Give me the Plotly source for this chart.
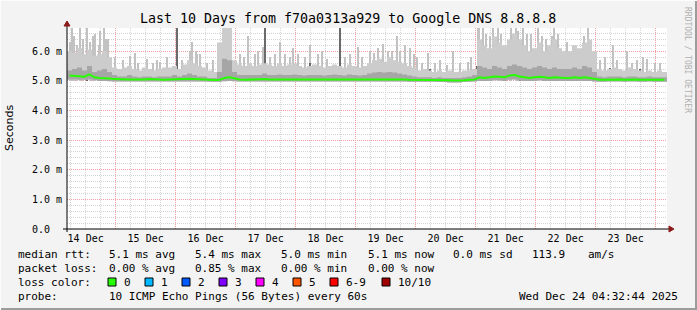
import plotly.graph_objects as go
import pandas as pd

# ---------------- data (ms) ----------------
start = pd.Timestamp("2025-12-14 04:32:44")
end = pd.Timestamp("2025-12-24 04:32:44")
bin_hours = 2  # one value per 2 hours, 120 bins

rtt_median = [
    5.18, 5.16, 5.15, 5.14, 5.22, 5.12, 5.10, 5.10, 5.08, 5.06,
    5.05, 5.04, 5.05, 5.05, 5.04, 5.05, 5.06, 5.05, 5.05, 5.04,
    5.05, 5.06, 5.05, 5.06, 5.07, 5.06, 5.05, 5.04, 5.03, 5.03,
    5.04, 5.10, 5.12, 5.08, 5.05, 5.04, 5.05, 5.05, 5.05, 5.06,
    5.05, 5.05, 5.06, 5.05, 5.05, 5.06, 5.05, 5.05, 5.06, 5.05,
    5.05, 5.05, 5.06, 5.07, 5.05, 5.05, 5.06, 5.05, 5.05, 5.06,
    5.06, 5.06, 5.07, 5.06, 5.07, 5.06, 5.06, 5.05, 5.04, 5.04,
    5.04, 5.04, 5.03, 5.04, 5.03, 5.03, 5.02, 5.01, 5.01, 5.02,
    5.04, 5.05, 5.12, 5.10, 5.12, 5.15, 5.14, 5.12, 5.18, 5.20,
    5.15, 5.12, 5.10, 5.12, 5.14, 5.12, 5.10, 5.12, 5.10, 5.10,
    5.10, 5.12, 5.10, 5.12, 5.10, 5.06, 5.04, 5.04, 5.05, 5.05,
    5.05, 5.04, 5.05, 5.05, 5.04, 5.04, 5.05, 5.04, 5.04, 5.04,
]
rtt_min = [
    5.05, 5.05, 5.04, 5.04, 5.05, 5.02, 5.00, 5.00, 4.99, 4.98,
    4.98, 4.98, 4.98, 4.98, 4.98, 4.98, 4.98, 4.98, 4.98, 4.98,
    4.98, 4.98, 4.98, 4.98, 4.98, 4.98, 4.98, 4.98, 4.97, 4.97,
    4.97, 4.99, 5.00, 4.99, 4.98, 4.98, 4.98, 4.98, 4.98, 4.98,
    4.98, 4.98, 4.98, 4.98, 4.98, 4.98, 4.98, 4.98, 4.98, 4.98,
    4.98, 4.98, 4.98, 4.98, 4.98, 4.98, 4.98, 4.98, 4.98, 4.98,
    4.98, 4.98, 4.98, 4.98, 4.98, 4.98, 4.98, 4.98, 4.97, 4.97,
    4.97, 4.97, 4.97, 4.97, 4.96, 4.96, 4.95, 4.95, 4.95, 4.96,
    4.97, 4.98, 5.00, 5.00, 5.00, 5.02, 5.02, 5.00, 5.04, 5.05,
    5.02, 5.00, 5.00, 5.00, 5.02, 5.00, 5.00, 5.00, 5.00, 5.00,
    5.00, 5.00, 5.00, 5.00, 5.00, 4.98, 4.97, 4.97, 4.98, 4.98,
    4.98, 4.97, 4.98, 4.98, 4.97, 4.97, 4.98, 4.97, 4.97, 4.97,
]
smoke_mid = [
    5.35, 5.40, 5.45, 5.35, 5.50, 5.30, 5.35, 5.40, 5.30, 5.20,
    5.15, 5.15, 5.20, 5.15, 5.12, 5.15, 5.15, 5.12, 5.15, 5.15,
    5.15, 5.20, 5.15, 5.20, 5.25, 5.20, 5.15, 5.15, 5.10, 5.10,
    5.30, 5.75, 5.70, 5.30, 5.20, 5.20, 5.20, 5.20, 5.20, 5.25,
    5.20, 5.20, 5.22, 5.20, 5.20, 5.22, 5.20, 5.18, 5.20, 5.20,
    5.20, 5.18, 5.20, 5.22, 5.20, 5.18, 5.22, 5.20, 5.18, 5.20,
    5.25, 5.28, 5.30, 5.28, 5.30, 5.28, 5.25, 5.22, 5.18, 5.15,
    5.12, 5.12, 5.12, 5.10, 5.12, 5.10, 5.10, 5.10, 5.10, 5.12,
    5.15, 5.20, 5.50, 5.45, 5.40, 5.50, 5.45, 5.40, 5.50, 5.55,
    5.50, 5.45, 5.40, 5.45, 5.50, 5.45, 5.40, 5.45, 5.40, 5.40,
    5.40, 5.45, 5.40, 5.50, 5.45, 5.30, 5.15, 5.12, 5.15, 5.15,
    5.15, 5.12, 5.15, 5.15, 5.12, 5.12, 5.15, 5.12, 5.12, 5.12,
]
smoke_hi = [
    6.00, 5.95, 6.10, 5.90, 6.05, 5.85, 5.90, 6.00, 5.80, 5.45,
    5.40, 5.45, 5.50, 5.40, 5.35, 5.45, 5.40, 5.35, 5.40, 5.45,
    5.45, 5.50, 5.40, 5.55, 5.70, 5.60, 5.50, 5.45, 5.35, 5.30,
    6.30, 6.79, 6.79, 5.70, 5.55, 5.50, 5.60, 5.50, 5.55, 5.60,
    5.55, 5.50, 5.60, 5.50, 5.55, 5.60, 5.50, 5.45, 5.50, 5.55,
    5.50, 5.45, 5.50, 5.55, 5.50, 5.45, 5.55, 5.50, 5.45, 5.50,
    5.60, 5.70, 5.75, 5.65, 5.80, 5.70, 5.65, 5.60, 5.50, 5.45,
    5.35, 5.40, 5.35, 5.30, 5.35, 5.30, 5.35, 5.30, 5.30, 5.35,
    5.35, 5.40, 6.40, 6.20, 6.10, 6.50, 6.30, 6.20, 6.40, 6.60,
    6.40, 6.20, 6.00, 6.10, 6.30, 6.00, 6.20, 6.40, 6.10, 6.00,
    6.00, 6.20, 6.10, 6.30, 6.40, 6.00, 5.40, 5.35, 5.40, 5.45,
    5.40, 5.35, 5.45, 5.40, 5.35, 5.30, 5.35, 5.30, 5.35, 5.30,
]
# narrow light smoke spikes: hours after start, top value (ms)
spike_hours = [
    1.2, 2, 2.8, 4, 5.2, 6.4, 8, 9.2, 10.4, 11.2, 12.8, 13.2, 14.8, 15.6, 16.4,
    19.2, 22.4, 25.2, 27.2, 28.4, 32, 34.4, 36, 37.2, 40, 46, 49.2, 50, 51.6, 52,
    53.2, 56, 58.4,
    69.2, 70.8, 72.4, 75.2, 76.4, 78.4, 81.2, 83.2, 85.2, 87.2, 89.2, 90.4, 92.4,
    95.2, 97.2, 100.4, 102, 104, 111.2, 113.2, 116.4, 118, 121.2,
    121.2, 122.8, 124.4, 126.4, 128.4, 130, 132, 133.2, 135.2, 137.2, 138.8,
    140, 142, 144.4, 147.2, 149.2, 152, 154.4, 157.2, 160.4, 161.6,
    164.4, 164.8, 166.4, 167.6, 169.2, 170.4, 172.4, 173.6, 177.6, 179.6, 180.4,
    182.4, 184, 185.6, 188.4, 190, 191.6, 194, 194.8, 196.4, 200, 206.8,
    208.4, 213.2, 215.2, 218.4, 220, 224, 226, 228, 230.4, 232, 235.2, 237.2,
]
spike_top = [
    6.30, 6.78, 6.50, 6.20, 6.78, 6.40, 6.78, 6.30, 6.50, 6.60, 6.20, 6.70, 6.78, 6.40, 6.40,
    5.80, 5.70, 5.85, 5.95, 5.60, 5.75, 5.60, 5.70, 5.65, 5.80, 5.70, 6.00, 6.30, 6.00, 5.90,
    5.90, 5.60, 5.70,
    5.90, 5.80, 6.50, 5.90, 6.00, 6.15, 5.80, 5.90, 6.30, 5.90, 5.80, 6.10, 5.90,
    5.80, 6.20, 5.90, 6.00, 5.75, 5.80, 5.90, 6.15, 5.80, 5.90,
    6.00, 5.95, 6.10, 6.25, 6.00, 6.00, 6.50, 6.00, 6.20, 6.10, 5.90,
    5.80, 5.60, 5.95, 5.60, 5.70, 5.55, 6.00, 5.60, 5.65, 5.80,
    6.78, 6.78, 6.78, 6.60, 6.50, 6.78, 6.78, 6.60, 6.78, 6.78, 6.70,
    6.78, 6.60, 6.60, 6.78, 6.50, 6.40, 6.50, 6.78, 6.60, 6.30, 6.50,
    6.78, 5.70, 5.80, 6.20, 5.70, 6.00, 5.60, 5.70, 5.80, 5.75, 5.60, 5.60,
]
# dark (dense) smoke spikes
dark_hours = [8, 44, 61.2, 79.2, 97.2, 109.2, 115.2, 145.2, 164, 181.2, 187.2, 205.2, 217.2, 229.2]
dark_top = [5.50, 6.78, 5.45, 6.78, 5.60, 6.78, 5.50, 5.40, 5.50, 5.45, 5.50, 5.50, 5.45, 5.40]

loss_labels = ["0", "1", "2", "3", "4", "5", "6-9", "10/10"]
loss_colors = ["#26ff00", "#00b8ff", "#0059ff", "#7e00ff", "#ff00ff", "#ff5500", "#ff0000", "#a10000"]

y_ticks = [0, 1, 2, 3, 4, 5, 6]
y_ticktext = ["0.0\u00a0\u00a0", "1.0 m", "2.0 m", "3.0 m", "4.0 m", "5.0 m", "6.0 m"]

# ---------------- geometry ----------------
W, H = 697, 310
PL, PR, PT, PB = 67, 667, 28, 229
YMAX = 6.786


def fx(p):
    return (p - PL) / (PR - PL)


def fy(p):
    return (PB - p) / (PB - PT)


times = [start + pd.Timedelta(hours=bin_hours * i) for i in range(len(rtt_median))] + [end]


def ext(a):
    return list(a) + [a[-1]]


MONO = "DejaVu Sans Mono"
fig = go.Figure()

fig.add_trace(go.Scatter(x=times, y=ext(rtt_min), mode="lines", line=dict(width=0, shape="hv"),
                         showlegend=False, hoverinfo="skip"))
fig.add_trace(go.Scatter(x=times, y=ext(smoke_hi), mode="lines", line=dict(width=0, shape="hv"),
                         fill="tonexty", fillcolor="#cccccc", showlegend=False, hoverinfo="skip"))

px_ms = 1440 * 1000  # one pixel of time in ms
fig.add_trace(go.Bar(x=[start + pd.Timedelta(hours=h) for h in spike_hours],
                     y=[t - 5.0 for t in spike_top], base=5.0, width=px_ms * 1.0,
                     marker=dict(color="#c2c2c2", line=dict(width=0)), showlegend=False, hoverinfo="skip"))

fig.add_trace(go.Scatter(x=times, y=ext(rtt_min), mode="lines", line=dict(width=0, shape="hv"),
                         showlegend=False, hoverinfo="skip"))
fig.add_trace(go.Scatter(x=times, y=ext(smoke_mid), mode="lines", line=dict(width=0, shape="hv"),
                         fill="tonexty", fillcolor="#a6a6a6", showlegend=False, hoverinfo="skip"))

fig.add_trace(go.Bar(x=[start + pd.Timedelta(hours=h) for h in dark_hours],
                     y=[t - 5.0 for t in dark_top], base=5.0, width=px_ms * 0.8,
                     marker=dict(color="#6a6a6a", line=dict(width=0)), showlegend=False, hoverinfo="skip"))

mid_times = [start + pd.Timedelta(hours=bin_hours * (i + 0.5)) for i in range(len(rtt_median))]
fig.add_trace(go.Scatter(x=mid_times, y=rtt_median, mode="lines", line=dict(color="#26ff00", width=2),
                         showlegend=False, hoverinfo="skip"))

fig.update_layout(
    width=W, height=H,
    margin=dict(l=PL, r=W - PR, t=PT, b=H - PB, pad=0),
    paper_bgcolor="#f3f3f3", plot_bgcolor="#ffffff",
    barmode="overlay", bargap=0,
    showlegend=False,
    font=dict(family=MONO, size=10, color="#000000"),
)
fig.update_xaxes(
    type="date", range=[start, end],
    tick0="2025-12-14", dtick=86400000, tickformat="%d %b", ticklabelmode="period",
    ticks="", showline=False, zeroline=False,
    showgrid=True, gridcolor="#f4a0a0", griddash="1px,1px", gridwidth=1,
    minor=dict(dtick=6 * 3600 * 1000, showgrid=True, gridcolor="#d4d4d4", griddash="1px,1px", gridwidth=1),
    tickfont=dict(family=MONO, size=10, color="#000000"),
    ticklabelstandoff=2,
)
fig.update_yaxes(
    range=[0, YMAX], tickvals=y_ticks, ticktext=y_ticktext,
    ticks="", showline=False, zeroline=False,
    showgrid=True, gridcolor="#f4a0a0", griddash="1px,1px", gridwidth=1,
    minor=dict(dtick=0.2, showgrid=True, gridcolor="#d4d4d4", griddash="1px,1px", gridwidth=1),
    tickfont=dict(family=MONO, size=10, color="#000000"),
    ticklabelstandoff=4,
)

shapes = []
# axes with arrows
shapes.append(dict(type="line", xref="paper", yref="paper", x0=fx(63), x1=fx(670), y0=fy(PB), y1=fy(PB),
                   line=dict(color="#000000", width=1)))
shapes.append(dict(type="line", xref="paper", yref="paper", x0=fx(PL), x1=fx(PL), y0=fy(232), y1=fy(25),
                   line=dict(color="#000000", width=1)))
shapes.append(dict(type="path", xref="paper", yref="paper",
                   path=f"M {fx(669)},{fy(PB - 3)} L {fx(674)},{fy(PB)} L {fx(669)},{fy(PB + 3)} Z",
                   fillcolor="#8b1a1a", line=dict(color="#8b1a1a", width=1)))
shapes.append(dict(type="path", xref="paper", yref="paper",
                   path=f"M {fx(PL - 3)},{fy(26)} L {fx(PL)},{fy(21)} L {fx(PL + 3)},{fy(26)} Z",
                   fillcolor="#8b1a1a", line=dict(color="#8b1a1a", width=1)))
# frame (3D border)
shapes.append(dict(type="line", xref="paper", yref="paper", x0=fx(0), x1=fx(697), y0=fy(309), y1=fy(309),
                   line=dict(color="#9c9c9c", width=2)))
shapes.append(dict(type="line", xref="paper", yref="paper", x0=fx(696), x1=fx(696), y0=fy(0), y1=fy(310),
                   line=dict(color="#9c9c9c", width=2)))
shapes.append(dict(type="line", xref="paper", yref="paper", x0=fx(0), x1=fx(697), y0=fy(0.5), y1=fy(0.5),
                   line=dict(color="#fcfcfc", width=1)))
shapes.append(dict(type="line", xref="paper", yref="paper", x0=fx(0.5), x1=fx(0.5), y0=fy(0), y1=fy(310),
                   line=dict(color="#fcfcfc", width=1)))

annotations = []


def text(x, y, s, size=11, anchor="left", color="#000000", family=MONO, angle=0):
    annotations.append(dict(xref="paper", yref="paper", x=fx(x), y=fy(y), text=s, showarrow=False,
                            xanchor=anchor, yanchor="middle", textangle=angle,
                            font=dict(family=family, size=size, color=color)))


text(348, 18, "Last 10 Days from f70a0313a929 to Google DNS 8.8.8.8", size=13.3, anchor="center")
text(10, 128, "Seconds", size=11, anchor="center", family="DejaVu Sans", angle=-90)
text(688, 60, "RRDTOOL / TOBI OETIKER", size=8, anchor="center", color="#b0b0b0", angle=90)

col = [16, 107, 192.7, 279, 365.7, 451, 530, 586]
row1 = ["median rtt:", "5.1 ms avg", "5.4 ms max", "5.0 ms min", "5.1 ms now", "0.0 ms sd", "113.9", "am/s"]
for x, s in zip(col, row1):
    text(x, 254, s)
row2 = ["packet loss:", "0.00 % avg", "0.85 % max", "0.00 % min", "0.00 % now"]
for x, s in zip(col, row2):
    text(x, 268, s)
text(16, 282, "loss color:")
sq_x = [108, 145, 182, 219, 256, 293, 330, 382]
for x, lab, c in zip(sq_x, loss_labels, loss_colors):
    shapes.append(dict(type="rect", xref="paper", yref="paper", x0=fx(x), x1=fx(x + 8), y0=fy(278), y1=fy(286),
                       fillcolor=c, line=dict(color="#000000", width=1)))
    text(x + 14, 282, lab)
text(16, 296, "probe:")
text(107, 296, "10 ICMP Echo Pings (56 Bytes) every 60s")
text(680, 296, "Wed Dec 24 04:32:44 2025", anchor="right")

fig.update_layout(shapes=shapes, annotations=annotations)
fig.write_html("out.html")
